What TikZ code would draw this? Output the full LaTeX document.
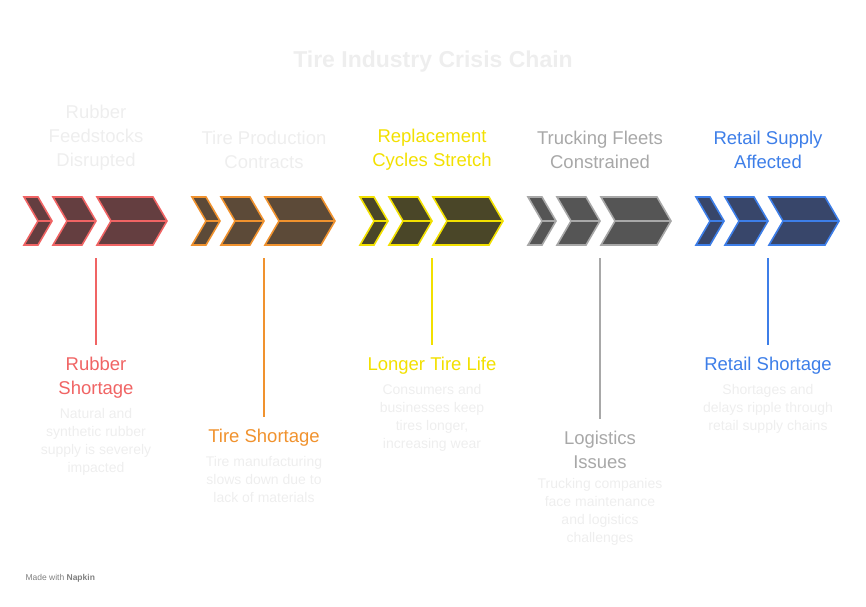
\documentclass[tikz,border=0pt]{standalone}
\usepackage{fontspec}
\setmainfont{Liberation Sans}
\usetikzlibrary{positioning}
\definecolor{redE}{HTML}{F06464}\definecolor{redF}{HTML}{643E40}
\definecolor{oraE}{HTML}{F0922E}\definecolor{oraF}{HTML}{5C4A38}
\definecolor{yelE}{HTML}{F2E000}\definecolor{yelF}{HTML}{4A4628}
\definecolor{gryE}{HTML}{A8A8A8}\definecolor{gryF}{HTML}{555555}
\definecolor{bluE}{HTML}{3D7EE8}\definecolor{bluF}{HTML}{38466A}
\definecolor{faint}{HTML}{EEEEEE}
\newcommand{\chev}[4]{% x0, x1, edge, fill
  \draw[chevron, draw=#3, fill=#4] (#1,197) -- (#2,197) -- (#2+14,221) -- (#2,245) -- (#1,245) -- (#1+14,221) -- cycle;
  \draw[chevron, draw=#3] (#1+14,221) -- (#2+14,221);}
\begin{document}
\begin{tikzpicture}[x=1pt,y=-1pt]
\tikzset{chevron/.style={line width=1.6pt, line join=miter},
  head/.style={font=\fontsize{18.5}{24}\selectfont, align=center},
  tag/.style={font=\fontsize{18.5}{24}\selectfont, align=center, inner sep=12pt},
  desc/.style={font=\fontsize{14}{18}\selectfont, align=center, text=faint},
  stem/.style={line width=1.2pt}}
\useasboundingbox (0,0) rectangle (866,606);
\node[font=\bfseries\fontsize{23}{26}\selectfont, text=faint] (title) at (433,62) {Tire Industry Crisis Chain};
% stages
\foreach \i/\e/\f in {0/redE/redF,1/oraE/oraF,2/yelE/yelF,3/gryE/gryF,4/bluE/bluF}{
  \pgfmathsetmacro{\dx}{168*\i}
  \begin{scope}[xshift=\dx pt]
    \chev{24}{38}{\e}{\f}
    \chev{53}{82}{\e}{\f}
    \chev{97}{153}{\e}{\f}
    \coordinate (top\i) at (96,258);
  \end{scope}}
\node[head, text=faint] (h0) at (96,138) {Rubber\\Feedstocks\\Disrupted};
\node[head, text=faint] (h1) at (264,150) {Tire Production\\Contracts};
\node[head, text=yelE] (h2) at (432,150) {Replacement\\Cycles Stretch};
\node[head, text=gryE] (h3) at (600,150) {Trucking Fleets\\Constrained};
\node[head, text=bluE] (h4) at (768,150) {Retail Supply\\Affected};
% outcomes
\node[tag, text=redE] (t0) at (96,378) {Rubber\\Shortage};
\node[desc, below=-6pt of t0] (d0) {Natural and\\synthetic rubber\\supply is severely\\impacted};
\node[tag, text=oraE] (t1) at (264,438) {Tire Shortage};
\node[desc, below=-6pt of t1] (d1) {Tire manufacturing\\slows down due to\\lack of materials};
\node[tag, text=yelE] (t2) at (432,366) {Longer Tire Life};
\node[desc, below=-6pt of t2] (d2) {Consumers and\\businesses keep\\tires longer,\\increasing wear};
\node[tag, text=gryE] (t3) at (600,450) {Logistics\\Issues};
\node[desc, below=-6pt of t3] (d3) {Trucking companies\\face maintenance\\and logistics\\challenges};
\node[tag, text=bluE] (t4) at (768,366) {Retail Shortage};
\node[desc, below=-6pt of t4] (d4) {Shortages and\\delays ripple through\\retail supply chains};
\draw[stem, redE] (top0) -- (t0.north);
\draw[stem, oraE] (top1) -- (t1.north);
\draw[stem, yelE] (top2) -- (t2.north);
\draw[stem, gryE] (top3) -- (t3.north);
\draw[stem, bluE] (top4) -- (t4.north);
\node[font=\fontsize{8.5}{10}\selectfont, text=gray, anchor=west] (foot) at (22,578) {Made with \textbf{Napkin}};
\end{tikzpicture}
\end{document}
